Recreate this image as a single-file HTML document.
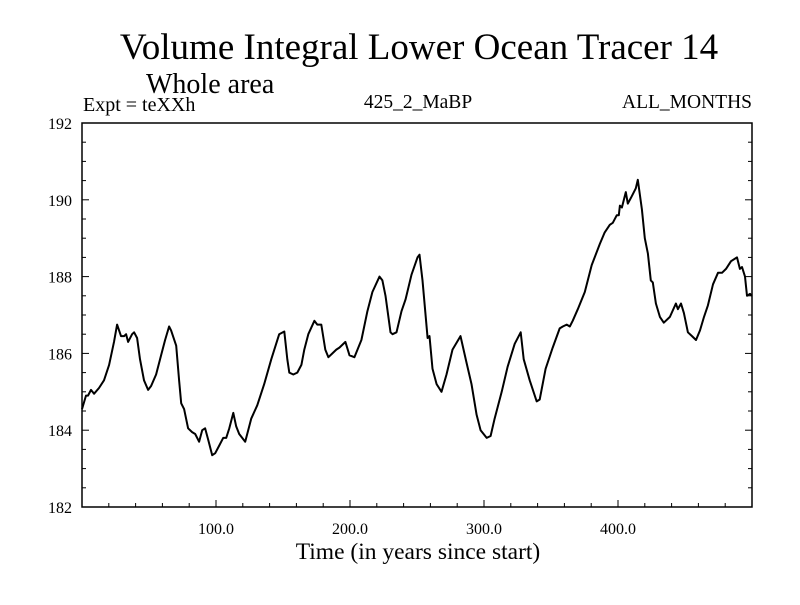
<!DOCTYPE html>
<html><head><meta charset="utf-8"><style>
body{margin:0;background:#fff}
svg text{font-family:"Liberation Serif",serif;fill:#000}
</style></head><body>
<svg id="chart" width="800" height="600" viewBox="0 0 800 600" xmlns="http://www.w3.org/2000/svg">
<rect width="800" height="600" fill="#fff"/>
<text x="419" y="59" font-size="37" text-anchor="middle">Volume Integral Lower Ocean Tracer 14</text>
<text x="146" y="93" font-size="28">Whole area</text>
<text x="83" y="111" font-size="20">Expt = teXXh</text>
<text x="418" y="108" font-size="19.5" text-anchor="middle">425_2_MaBP</text>
<text x="752" y="108" font-size="19.5" text-anchor="end">ALL_MONTHS</text>
<text x="418" y="559" font-size="23.5" text-anchor="middle">Time (in years since start)</text>
<g id="axes"></g>
<path id="series" fill="none" stroke="#000" stroke-width="2" stroke-linejoin="round"/>
</svg>
<script>
const years=[0,3,4.5,6.7,9,12.7,16.4,20.2,23.9,26.2,29.1,31.4,32.9,34.4,37.4,38.9,41.1,43.3,46.3,49.3,51.6,55.3,59,62,65,66.5,70.3,72.5,74,76.2,79.2,82.2,84.5,87.4,89.7,91.9,94.2,97.2,99.4,102.4,105.4,107.6,109.9,112.9,115.1,117.3,121.8,126.3,130.8,136,141.3,147.2,151,153.2,154.7,157.7,160.7,163.7,165.9,168.9,173.4,175.6,178.6,181.6,183.9,186.9,189.8,192.1,196.6,199.6,203.3,208.5,213,216.7,222,224.2,226.5,230.2,231.7,234.7,238.4,241.4,245.9,250.4,251.9,254.1,257.9,259.3,261.6,264.6,268.3,272,276.5,282.5,287,290.7,294.5,297.5,302,304.9,307.9,313.2,317.6,322.9,327.4,329.6,334.1,339.3,341.6,346,351.3,356.5,358.8,361.7,364,366.2,370,375.2,380.4,386.4,390.1,393.9,396.1,399.1,400.6,401.4,402.9,405.8,407.3,409.6,413.3,414.8,417.8,420,422.3,424.5,426,428.3,431.3,434.2,438.7,443.2,444.7,447,449.2,452.2,455.2,458.2,461.2,464.2,467.1,470.9,474.6,477.6,480.6,484.3,488.8,491,492.5,494.8,496.3,498.5,500];
const values=[184.55,184.9,184.9,185.05,184.95,185.1,185.3,185.7,186.3,186.75,186.45,186.45,186.5,186.3,186.5,186.55,186.4,185.85,185.3,185.05,185.15,185.45,185.95,186.35,186.7,186.6,186.2,185.3,184.7,184.55,184.05,183.95,183.9,183.7,184.0,184.05,183.75,183.35,183.4,183.6,183.8,183.8,184.05,184.45,184.1,183.9,183.7,184.3,184.65,185.2,185.85,186.5,186.57,185.85,185.5,185.45,185.5,185.7,186.1,186.5,186.85,186.75,186.75,186.1,185.9,186.0,186.1,186.15,186.3,185.95,185.9,186.35,187.1,187.6,188.0,187.9,187.5,186.55,186.5,186.55,187.1,187.4,188.05,188.5,188.57,187.9,186.4,186.45,185.6,185.2,185.0,185.45,186.1,186.45,185.75,185.2,184.4,184.0,183.8,183.85,184.3,185.0,185.65,186.25,186.55,185.85,185.3,184.75,184.8,185.6,186.15,186.65,186.7,186.75,186.7,186.85,187.15,187.6,188.3,188.85,189.15,189.35,189.4,189.6,189.6,189.85,189.8,190.2,189.9,190.05,190.3,190.52,189.75,189.0,188.6,187.9,187.85,187.3,186.95,186.8,186.95,187.3,187.15,187.3,187.05,186.55,186.45,186.35,186.6,186.95,187.25,187.8,188.1,188.1,188.2,188.4,188.5,188.2,188.25,188.0,187.5,187.55,187.5];
const yTicks=[182,184,186,188,190,192];
const xTicks=[100,200,300,400];
const xTickLabels=["100.0","200.0","300.0","400.0"];

const X0=82,X1=752,Y0=507,Y1=123;
const xMin=0,xMax=500,yMin=182,yMax=192;
function xs(v){return X0+(v-xMin)/(xMax-xMin)*(X1-X0);}
function ys(v){return Y0-(v-yMin)/(yMax-yMin)*(Y0-Y1);}
const NS="http://www.w3.org/2000/svg";
const g=document.getElementById('axes');
function mk(tag,attrs){const e=document.createElementNS(NS,tag);for(const k in attrs)e.setAttribute(k,attrs[k]);g.appendChild(e);return e;}
const frame=mk('rect',{x:X0,y:Y1,width:X1-X0,height:Y0-Y1,fill:'none',stroke:'#000','stroke-width':1.5});


for(let v=yMin;v<=yMax+1e-9;v+=0.5){
  const major=Math.abs(v/2-Math.round(v/2))<1e-9;
  const len=major?7:4;
  const t1=mk('line',{x1:X0,x2:X0+len,y1:ys(v),y2:ys(v),stroke:'#000','stroke-width':1});
  
  
  const t2=mk('line',{x1:X1,x2:X1-len,y1:ys(v),y2:ys(v),stroke:'#000','stroke-width':1});
  
  
}
yTicks.forEach(v=>{
  const t=mk('text',{x:72,y:ys(v)+6,'font-size':16,'text-anchor':'end'});
  t.textContent=String(v);
  
  
});
for(let v=20;v<xMax;v+=20){
  const major=v%100===0;
  const len=major?7:4;
  const t=mk('line',{x1:xs(v),x2:xs(v),y1:Y0,y2:Y0-len,stroke:'#000','stroke-width':1});
  
  
}
xTicks.forEach((v,i)=>{
  const t=mk('text',{x:xs(v),y:Y0+27,'font-size':16,'text-anchor':'middle'});
  t.textContent=xTickLabels[i];
  
  
});
let d='';
years.forEach((yr,i)=>{d+=(i?'L':'M')+xs(yr).toFixed(1)+','+ys(values[i]).toFixed(1);});
document.getElementById('series').setAttribute('d',d);
</script>
</body></html>
